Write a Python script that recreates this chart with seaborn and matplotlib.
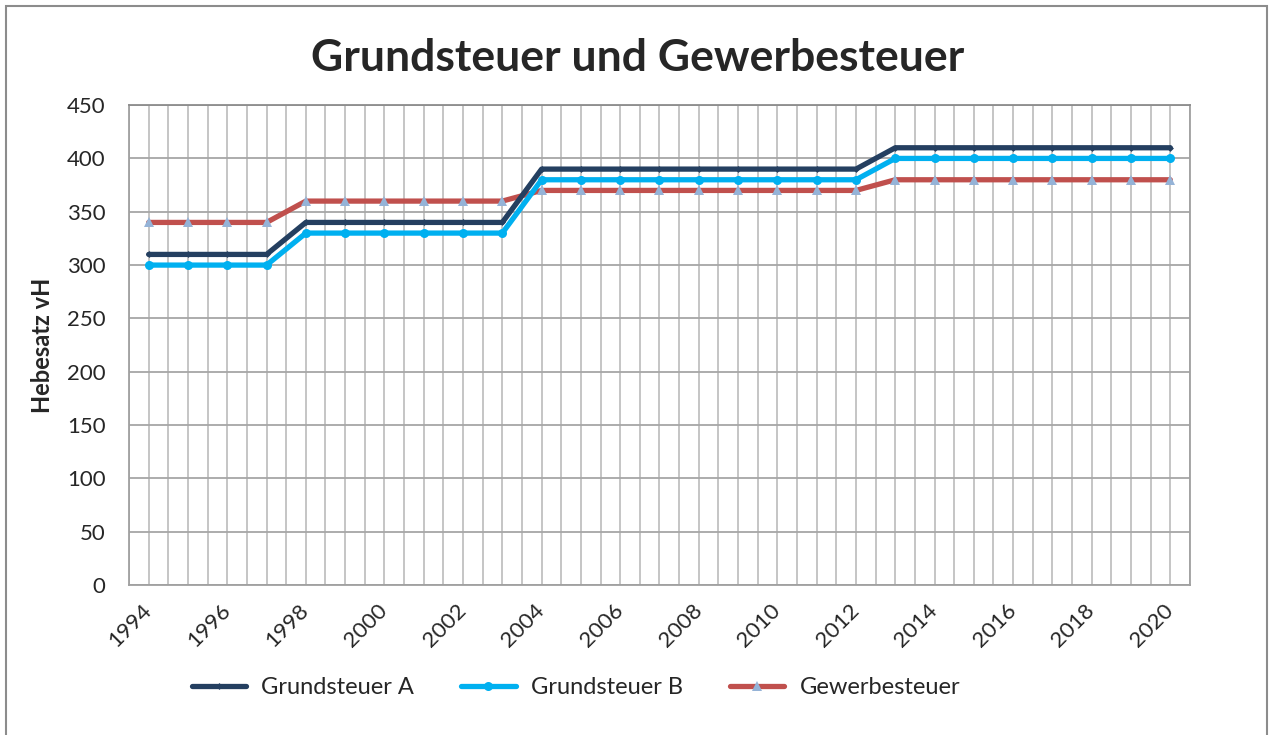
import matplotlib
matplotlib.use("Agg")
import matplotlib.pyplot as plt
import seaborn as sns
import pandas as pd
from matplotlib.patches import Rectangle

years = list(range(1994, 2021))
grundsteuer_a = [310] * 4 + [340] * 6 + [390] * 9 + [410] * 8
grundsteuer_b = [300] * 4 + [330] * 6 + [380] * 9 + [400] * 8
gewerbesteuer = [340] * 4 + [360] * 6 + [370] * 9 + [380] * 8
y_ticks = list(range(0, 451, 50))
x_labels = list(range(1994, 2021, 2))

sns.set_theme(style="white")
plt.rcParams["font.family"] = ["Lato", "DejaVu Sans"]

fig = plt.figure(figsize=(12.75, 7.35), dpi=100)
ax = fig.add_axes([0.1012, 0.204, 0.8321, 0.653])

df = pd.DataFrame({"Jahr": years, "A": grundsteuer_a, "B": grundsteuer_b, "G": gewerbesteuer})

sns.lineplot(data=df, x="Jahr", y="A", ax=ax, color="#243F60", lw=3.8,
             marker="D", markersize=3.5, markeredgewidth=0, label="Grundsteuer A", zorder=4)
sns.lineplot(data=df, x="Jahr", y="B", ax=ax, color="#00B0F0", lw=3.8,
             marker="o", markersize=6.5, markeredgewidth=0, label="Grundsteuer B", zorder=3)
sns.lineplot(data=df, x="Jahr", y="G", ax=ax, color="#C0504D", lw=3.8,
             marker="^", markersize=7, markerfacecolor="#95B3D7", markeredgewidth=0,
             label="Gewerbesteuer", zorder=2)

ax.set_xlim(1993.5, 2020.5)
ax.set_ylim(0, 450)
ax.set_yticks(y_ticks)
ax.set_xticks(x_labels)
ax.set_xticklabels([str(v) for v in x_labels], rotation=45, ha="right",
                   va="center", rotation_mode="anchor", fontsize=16)
ax.set_xticks([1993.5 + 0.5 * i for i in range(55)], minor=True)
ax.tick_params(axis="both", which="both", length=0)
ax.tick_params(axis="y", labelsize=16, pad=17)
ax.tick_params(axis="x", pad=16)

ax.grid(False)
ax.xaxis.grid(True, which="both", color="#C0C0C0", lw=1.3)
ax.yaxis.grid(True, which="major", color="#A6A6A6", lw=1.3)
ax.set_axisbelow(True)
for side, sp in ax.spines.items():
    sp.set_color("#A0A0A0")
    sp.set_linewidth(1.3)
ax.spines["top"].set_color("#8C8C8C")

ax.set_xlabel("")
ax.set_ylabel("Hebesatz vH", fontsize=17, fontweight="bold", labelpad=9)

fig.text(0.5, 0.921, "Grundsteuer und Gewerbesteuer", ha="center", va="center",
         fontsize=32, fontweight="bold")

leg = ax.legend(loc="center", bbox_to_anchor=(576 / 1275, 1 - 688 / 735),
                bbox_transform=fig.transFigure, ncol=3, frameon=False,
                fontsize=17, handlelength=2.3, columnspacing=2.0, handletextpad=0.65)

fig.patches.append(Rectangle((6 / 1275, -0.01), 1261 / 1275, 1 - 6 / 735 + 0.01,
                             transform=fig.transFigure, fill=False,
                             edgecolor="#8C8C8C", lw=1.5, zorder=0))

fig.savefig("out.png", dpi=100)
